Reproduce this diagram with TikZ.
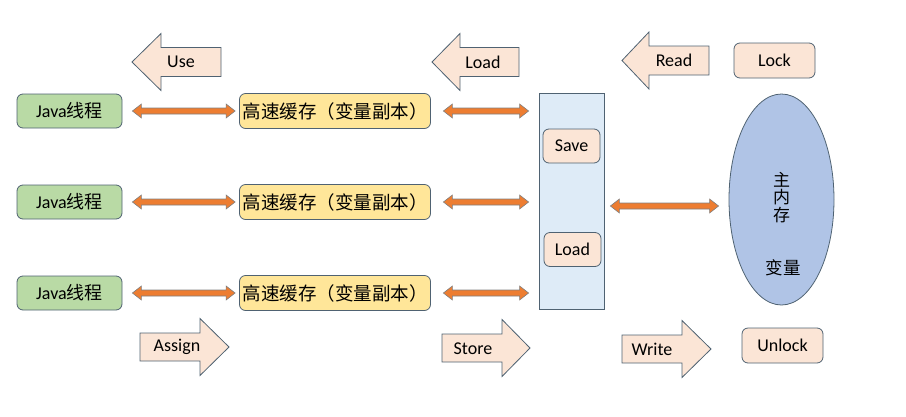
\documentclass[tikz,border=0pt]{standalone}
\usepackage{fontspec}
\setmainfont{Carlito}
\newfontfamily\cjk{Noto Sans CJK SC}
\usetikzlibrary{calc,shapes.geometric}
\definecolor{bordc}{HTML}{4F6272}
\definecolor{greenf}{HTML}{B9DAA5}
\definecolor{yellowf}{HTML}{FFE699}
\definecolor{peachf}{HTML}{FBE5D6}
\definecolor{bluef}{HTML}{DEEBF7}
\definecolor{ellf}{HTML}{B0C4E6}
\definecolor{orangef}{HTML}{ED7D31}
\definecolor{arrbord}{HTML}{7F7F7F}
\newcommand{\leftblk}[4]{% tipx, y, basex, rightx
  \draw[blk] (#1,#2) -- (#3,#2-28.5) -- (#3,#2-14.5) -- (#4,#2-14.5) -- (#4,#2+14.5) -- (#3,#2+14.5) -- (#3,#2+28.5) -- cycle;}
\newcommand{\rightblk}[4]{% leftx, y, basex, tipx
  \draw[blk] (#4,#2) -- (#3,#2-28.5) -- (#3,#2-14) -- (#1,#2-14) -- (#1,#2+14) -- (#3,#2+14) -- (#3,#2+28.5) -- cycle;}
\begin{document}
\begin{tikzpicture}[x=1pt,y=-1pt,
  txt/.style={font=\fontsize{18}{20}\selectfont, inner sep=0pt},
  rbox/.style={draw=bordc, line width=0.8pt, rounded corners=6pt, inner sep=0pt, font=\fontsize{18}{20}\selectfont},
  javabox/.style={rbox, fill=greenf, minimum width=105pt, minimum height=34pt},
  cachebox/.style={rbox, fill=yellowf, minimum width=191pt, minimum height=35pt, font=\cjk\fontsize{18.5}{20}\selectfont},
  opbox/.style={rbox, fill=peachf, minimum width=57pt, minimum height=34pt},
  lockbox/.style={rbox, fill=peachf, minimum width=81pt, minimum height=35pt},
  blk/.style={draw=bordc, line width=0.8pt, fill=peachf, line join=miter},
  dbl/.style={draw=arrbord, line width=0.6pt, fill=orangef,
    to path={let \p1=(\tikztostart), \p2=(\tikztotarget) in
      (\x1,\y1) -- (\x1+9,\y1+7) -- (\x1+9,\y1+3) -- (\x2-9,\y1+3) -- (\x2-9,\y1+7) -- (\x2,\y1)
      -- (\x2-9,\y1-7) -- (\x2-9,\y1-3) -- (\x1+9,\y1-3) -- (\x1+9,\y1-7) -- cycle}}
]
\useasboundingbox (0,0) rectangle (906,416);

% block arrows
\leftblk{132}{62}{161}{221}
\leftblk{432}{62}{460}{519}
\leftblk{622}{60.5}{649}{709}
\rightblk{140}{347}{200}{229}
\rightblk{442}{348}{502}{530}
\rightblk{622}{349}{682}{711}
\node[txt] (use) at (181,62) {Use};
\node[txt] (load1) at (483,62) {Load};
\node[txt] (read) at (674,60) {Read};
\node[txt] (assign) at (177,347) {Assign};
\node[txt] (store) at (473,349) {Store};
\node[txt] (write) at (652,349) {Write};

% java threads
\node[javabox] (j1) at (69.5,111) {Java{\cjk 线程}};
\node[javabox] (j2) at (69.5,202) {Java{\cjk 线程}};
\node[javabox] (j3) at (69.5,293) {Java{\cjk 线程}};

% caches
\node[cachebox] (c1) at (335,111) {高速缓存（变量副本）};
\node[cachebox] (c2) at (335,202) {高速缓存（变量副本）};
\node[cachebox] (c3) at (335,293) {高速缓存（变量副本）};

% middle rectangle
\node[draw=bordc, line width=0.8pt, fill=bluef, minimum width=65pt, minimum height=216pt, inner sep=0pt] (mid) at (571.5,201) {};
\node[opbox] (save) at (571.5,146) {Save};
\node[opbox] (load2) at (572.5,249.5) {Load};

% main memory
\node[ellipse, draw=bordc, line width=0.8pt, fill=ellf, minimum width=105pt, minimum height=211pt, inner sep=0pt] (mem) at (781.5,199.5) {};
\node[txt, font=\cjk\fontsize{17}{17.5}\selectfont, align=center] (memlbl) at (781.5,197.5) {主\\内\\存};
\node[txt, font=\cjk\fontsize{17.5}{20}\selectfont] (var) at (783,268) {变量};

\node[lockbox] (lock) at (774.5,60.5) {Lock};
\node[lockbox] (unlock) at (782.5,345.5) {Unlock};

% double arrows
\draw[dbl] ([xshift=10pt]j1.east) to ([xshift=-4pt]c1.west);
\draw[dbl] ([xshift=10pt]j2.east) to ([xshift=-4pt]c2.west);
\draw[dbl] ([xshift=10pt]j3.east) to ([xshift=-4pt]c3.west);
\draw[dbl] ([xshift=12.5pt]c1.east) to ([xshift=-10pt]mid.west |- c1.east);
\draw[dbl] ([xshift=12.5pt]c2.east) to ([xshift=-10pt]mid.west |- c2.east);
\draw[dbl] ([xshift=12.5pt]c3.east) to ([xshift=-10pt]mid.west |- c3.east);
\draw[dbl] ([xshift=6pt]mid.east |- 0,206) to ([xshift=-10pt]mem.west |- 0,206);
\end{tikzpicture}
\end{document}
